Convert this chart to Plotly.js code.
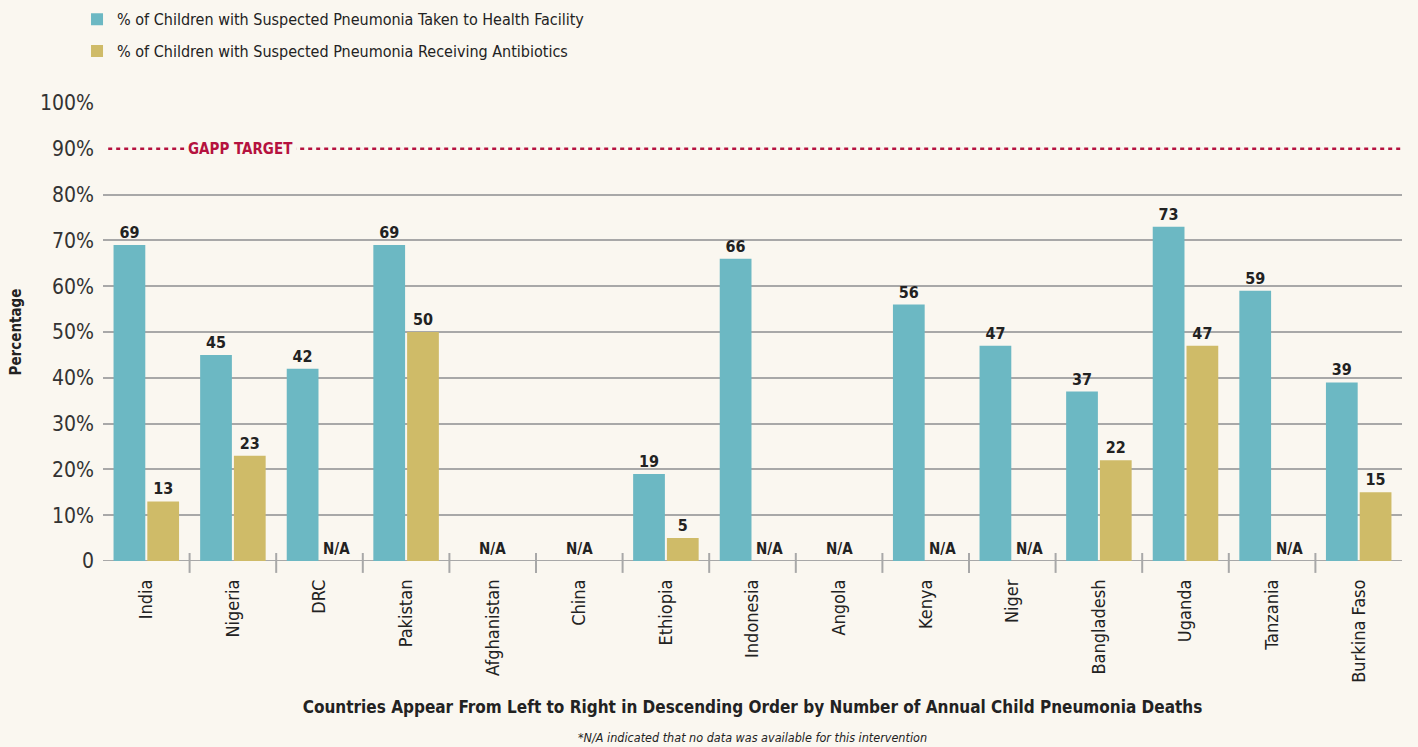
<!DOCTYPE html>
<html><head><meta charset="utf-8">
<script src="https://cdn.plot.ly/plotly-3.0.1.min.js"></script>
<style>html,body{margin:0;padding:0;background:#faf7f0;}</style>
</head><body>
<div id="chart" style="width:1418px;height:747px;"></div>
<script>
const countries = ["India","Nigeria","DRC","Pakistan","Afghanistan","China","Ethiopia","Indonesia","Angola","Kenya","Niger","Bangladesh","Uganda","Tanzania","Burkina Faso"];
const healthFacility = [69,45,42,69,null,null,19,66,null,56,47,37,73,59,39];
const antibiotics = [13,23,null,50,null,null,5,null,null,null,null,22,47,null,15];
const yTickVals = [0,10,20,30,40,50,60,70,80,90,100];
const yTickText = ["0","10%","20%","30%","40%","50%","60%","70%","80%","90%","100%"];
const gridVals = [10,20,30,40,50,60,70,80,100];
const gappTarget = 90;
const seriesNames = ["% of Children with Suspected Pneumonia Taken to Health Facility","% of Children with Suspected Pneumonia Receiving Antibiotics"];

const FONT = "'DejaVu Sans Condensed','DejaVu Sans',sans-serif";
const BG = "#faf7f0";

const traces = [
  {type:"bar", name:seriesNames[0], x:countries, y:healthFacility, marker:{color:"#6cb8c3"},
   text:healthFacility.map(v=>v==null?"":"<b>"+v+"</b>"), textposition:"outside", cliponaxis:false,
   textfont:{family:FONT,size:16,color:"#222"}, legendgroup:"a", hoverinfo:"x+y"},
  {type:"bar", name:seriesNames[1], x:countries, y:antibiotics, marker:{color:"#cfbb68"},
   text:antibiotics.map(v=>v==null?"":"<b>"+v+"</b>"), textposition:"outside", cliponaxis:false,
   textfont:{family:FONT,size:16,color:"#222"}, legendgroup:"b", hoverinfo:"x+y"},
  {type:"scatter", x:[countries[0]], y:[0], yaxis:"y2", mode:"markers", marker:{opacity:0,size:1}, showlegend:false, hoverinfo:"skip"}
];

const annotations = [];
countries.forEach((c,i)=>{
  const a = healthFacility[i], b = antibiotics[i];
  if (a==null && b==null) {
    annotations.push({x:c, y:0, xref:"x", yref:"y", text:"<b>N/A</b>", showarrow:false, yanchor:"bottom", yshift:1, font:{family:FONT,size:15,color:"#222"}});
  } else if (b==null) {
    annotations.push({x:c, y:0, xref:"x", yref:"y", text:"<b>N/A</b>", showarrow:false, yanchor:"bottom", yshift:1, xshift:17, font:{family:FONT,size:15,color:"#222"}});
  }
});
annotations.push({x:0.106, xref:"paper", y:gappTarget, yref:"y", text:"<b>GAPP TARGET</b>", showarrow:false,
  bgcolor:BG, font:{family:FONT,size:15,color:"#b5123f"}, borderpad:3, xanchor:"center"});
annotations.push({x:0.5, xref:"paper", y:0, yref:"paper", yshift:-176, yanchor:"middle", showarrow:false,
  text:"<i>*N/A indicated that no data was available for this intervention</i>", font:{family:FONT,size:12.5,color:"#222"}});

const shapes = [
  {type:"line", xref:"paper", x0:0.004, x1:1, yref:"y", y0:gappTarget, y1:gappTarget, line:{color:"#b5123f", width:2.5, dash:"4px,4px"}, layer:"below"},
  {type:"line", xref:"paper", x0:0, x1:1, yref:"y", y0:0, y1:0, line:{color:"#a8a8a8", width:2}, layer:"below"}
];
for (let i=1;i<countries.length;i++){
  shapes.push({type:"line", xref:"x", yref:"paper", x0:i-0.5, x1:i-0.5, y0:-0.026, y1:0.0175, line:{color:"#a8a8a8",width:2}, layer:"above"});
}

const layout = {
  width:1418, height:747,
  paper_bgcolor:BG, plot_bgcolor:BG,
  margin:{l:103, r:16, t:103, b:186},
  font:{family:FONT, color:"#222"},
  barmode:"group", bargap:0.22, bargroupgap:0.06,
  showlegend:true,
  legend:{xref:"paper", x:-0.02, xanchor:"left", yref:"container", y:0.997, yanchor:"top", bgcolor:"rgba(0,0,0,0)", font:{family:FONT,size:16,color:"#222"}, tracegroupgap:8, itemwidth:30},
  xaxis:{type:"category", range:[-0.5, countries.length-0.5], tickangle:-90, tickfont:{family:FONT,size:18,color:"#222"}, ticks:"",
    showline:false, showgrid:false, zeroline:false, ticklabelstandoff:14,
    title:{text:"<b>Countries Appear From Left to Right in Descending Order by Number of Annual Child Pneumonia Deaths</b>", font:{family:FONT,size:17,color:"#222"}, standoff:19}},
  yaxis:{range:[0,100], tickvals:yTickVals, ticktext:yTickText, showgrid:false, zeroline:false, fixedrange:true,
    tickfont:{family:FONT,size:21,color:"#333"}, ticks:"", ticklabelstandoff:8,
    title:{text:"<b>Percentage</b>", font:{family:FONT,size:15,color:"#222"}, standoff:14}},
  yaxis2:{range:[0,100], overlaying:"y", tickvals:gridVals, showticklabels:false, showgrid:true, gridcolor:"#a8a8a8", gridwidth:2, zeroline:false, layer:"below traces"},
  annotations:annotations, shapes:shapes
};
Plotly.newPlot("chart", traces, layout, {displayModeBar:false, staticPlot:true});
</script>
</body></html>
